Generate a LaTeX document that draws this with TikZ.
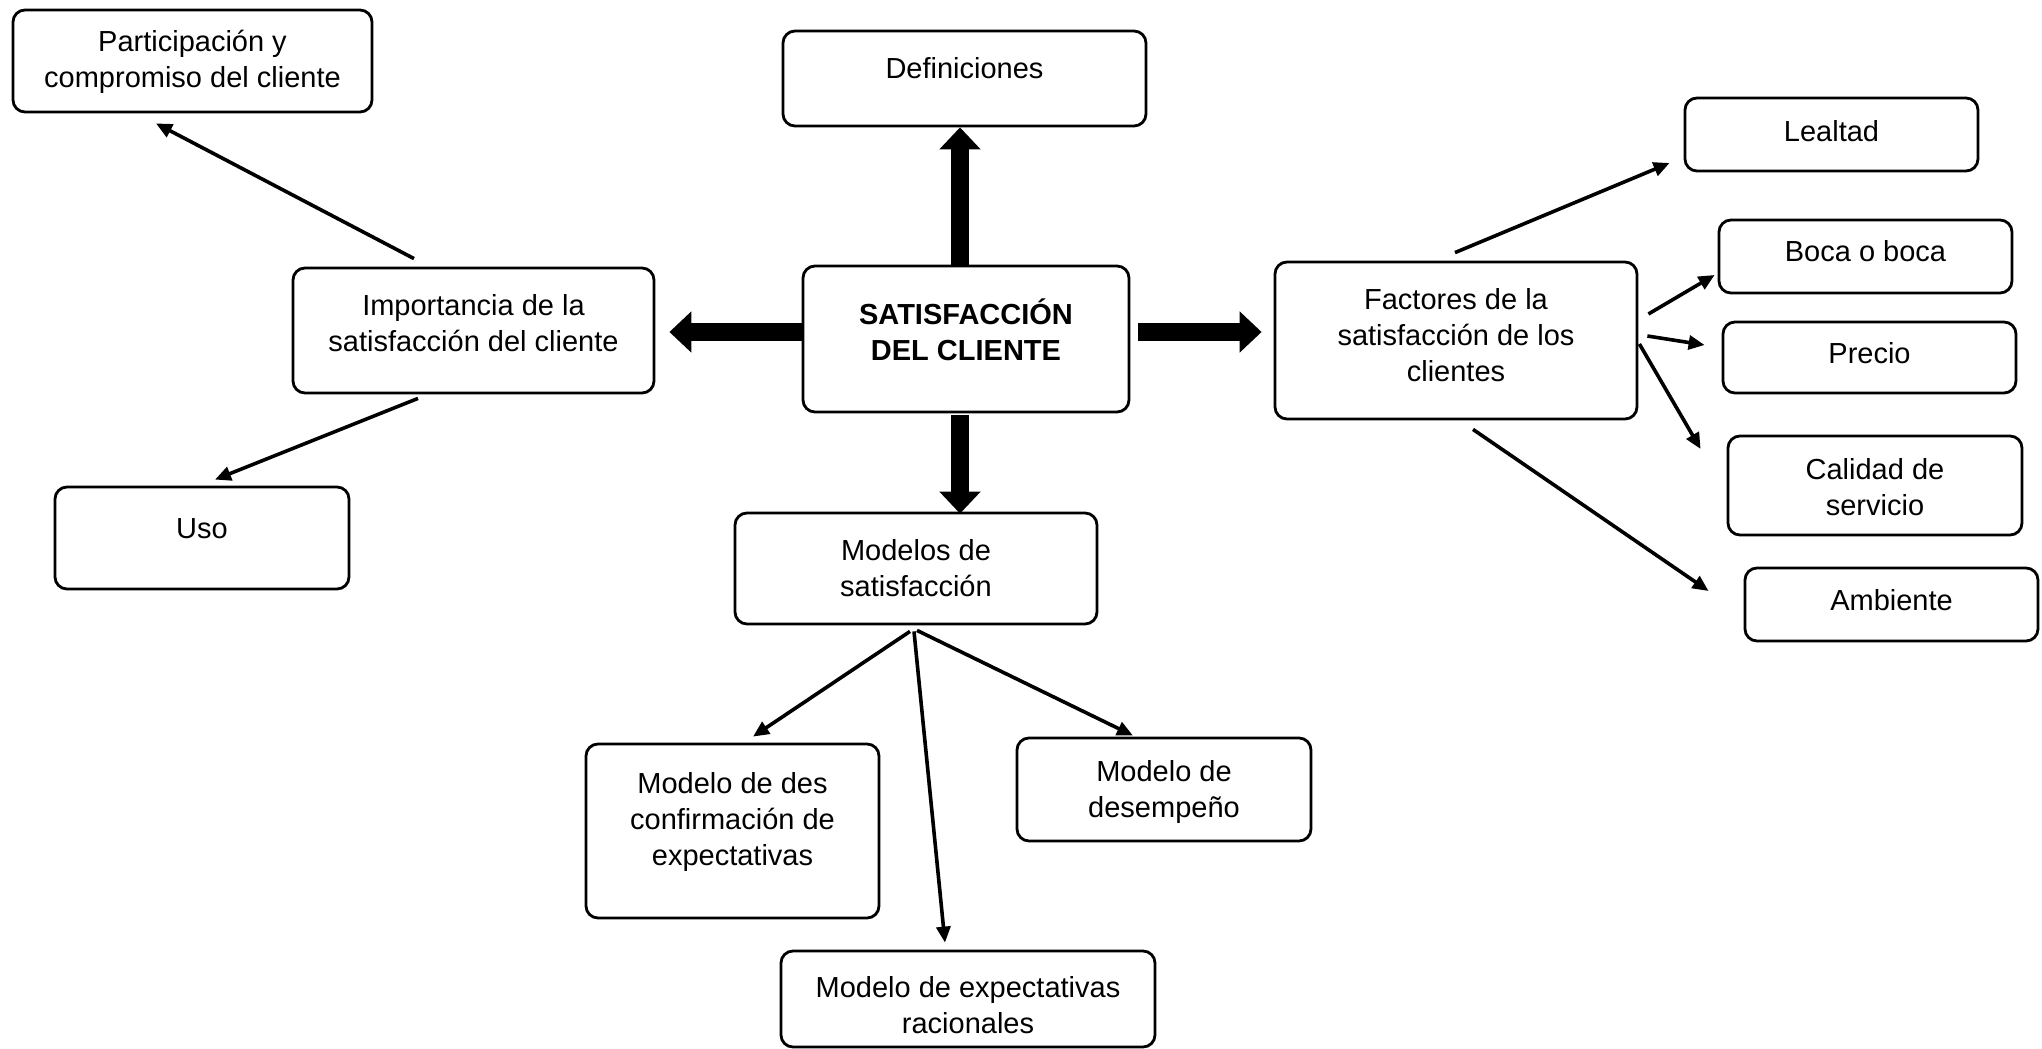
\documentclass[tikz,border=0pt]{standalone}
\usepackage{fontspec}
\setmainfont{Liberation Sans}
\usetikzlibrary{arrows.meta,calc}
\begin{document}
\begin{tikzpicture}[x=0.5pt,y=-0.5pt,
  cbox/.style={draw, line width=1.4pt, rounded corners=6pt, inner sep=0pt},
  ctext/.style={align=center, font=\fontsize{14.5}{18}\selectfont, inner sep=0pt},
  link/.style={line width=1.8pt, -{Triangle[length=8pt,width=7pt]}},
  bigarrow/.style={line width=9pt, -{Triangle[length=11pt,width=20pt]}},
]
\useasboundingbox (0,0) rectangle (2042,1049);

% boxes
\node[cbox, minimum width=179.5pt, minimum height=51pt]   (part)  at (192.5,61)   {};
\node[cbox, minimum width=181.5pt, minimum height=47.5pt] (def)   at (964.5,78.5) {};
\node[cbox, minimum width=146.5pt, minimum height=36.5pt] (leal)  at (1831.5,134.5) {};
\node[cbox, minimum width=180.5pt, minimum height=62.5pt] (imp)   at (473.5,330.5) {};
\node[cbox, minimum width=163pt,   minimum height=73pt]   (sat)   at (966,339)    {};
\node[cbox, minimum width=181pt,   minimum height=78.5pt] (fac)   at (1456,340.5) {};
\node[cbox, minimum width=146.5pt, minimum height=36.5pt] (boca)  at (1865.5,256.5) {};
\node[cbox, minimum width=146.5pt, minimum height=35.5pt] (precio) at (1869.5,357.5) {};
\node[cbox, minimum width=147pt,   minimum height=49.5pt] (cal)   at (1875,485.5) {};
\node[cbox, minimum width=146.5pt, minimum height=36.5pt] (amb)   at (1891.5,604.5) {};
\node[cbox, minimum width=147pt,   minimum height=51pt]   (uso)   at (202,538)    {};
\node[cbox, minimum width=181pt,   minimum height=55.5pt] (mods)  at (916,568.5)  {};
\node[cbox, minimum width=146.5pt, minimum height=87pt]   (mdes)  at (732.5,831)  {};
\node[cbox, minimum width=147pt,   minimum height=51.5pt] (mdese) at (1164,789.5) {};
\node[cbox, minimum width=187pt,   minimum height=48pt]   (mexp)  at (968,999)    {};

% labels
\node[ctext] (part-t)  at (192.5,62)   {Participación y\\compromiso del cliente};
\node[ctext] (def-t)   at (964.5,68)   {Definiciones};
\node[ctext] (leal-t)  at (1831.5,131.5) {Lealtad};
\node[ctext] (imp-t)   at (473.5,323)  {Importancia de la\\satisfacción del cliente};
\node[ctext, font=\fontsize{14.5}{18}\selectfont\bfseries] (sat-t) at (966,329.5) {SATISFACCIÓN\\DEL CLIENTE};
\node[ctext] (fac-t)   at (1456,335)   {Factores de la\\satisfacción de los\\clientes};
\node[ctext] (boca-t)  at (1865.5,251) {Boca o boca};
\node[ctext] (precio-t) at (1869.5,353) {Precio};
\node[ctext] (cal-t)   at (1875,487.5) {Calidad de\\servicio};
\node[ctext] (amb-t)   at (1891.5,600) {Ambiente};
\node[ctext] (uso-t)   at (202,528.7)  {Uso};
\node[ctext] (mods-t)  at (916,568)    {Modelos de\\satisfacción};
\node[ctext] (mdes-t)  at (732.5,822)  {Modelo de des\\confirmación de\\expectativas};
\node[ctext] (mdese-t) at (1164,792)   {Modelo de\\desempeño};
\node[ctext] (mexp-t)  at (968,1005)   {Modelo de expectativas\\racionales};

% thick block arrows from the centre
\draw[bigarrow] ([xshift=-3pt]sat.north) -- ([xshift=-2.25pt]def.south);
\draw[bigarrow] ([yshift=3.5pt]sat.west) -- ([xshift=7pt,yshift=-0.75pt]imp.east);
\draw[bigarrow] ([xshift=4pt,yshift=3.5pt]sat.east) -- ([xshift=-6pt,yshift=4.25pt]fac.west);
\draw[bigarrow] ([xshift=-3pt,yshift=-1pt]sat.south) -- ([xshift=22pt,yshift=-1pt]mods.north);

% thin arrows
\draw[link] ($(imp.north)+(-59.5,-8)$) -- ($(part.south)+(-36.5,10)$);
\draw[link] ($(imp.south)+(-55.5,4)$) -- ($(uso.north)+(13,-6)$);
\draw[link] ($(fac.north)+(-1,-8)$) -- ($(leal.west)+(-14,28.5)$);
\draw[link] ($(fac.east)+(10,-26.5)$) -- ($(boca.west)+(-3,18.5)$);
\draw[link] ($(fac.east)+(9,-4.5)$) -- ($(precio.west)+(-17,-12.5)$);
\draw[link] ($(fac.east)+(1,3.5)$) -- ($(cal.west)+(-26,-36.5)$);
\draw[link] ($(fac.south)+(17,9)$) -- ($(amb.west)+(-35,-13.5)$);
\draw[link] ($(mods.south)+(-6,6)$) -- ($(mdes.north)+(20.5,-6)$);
\draw[link] ($(mods.south)+(-2,6)$) -- ($(mexp.north)+(-23,-7)$);
\draw[link] ($(mods.south)+(1,5)$) -- ($(mdese.north)+(-31,-1)$);
\end{tikzpicture}
\end{document}
